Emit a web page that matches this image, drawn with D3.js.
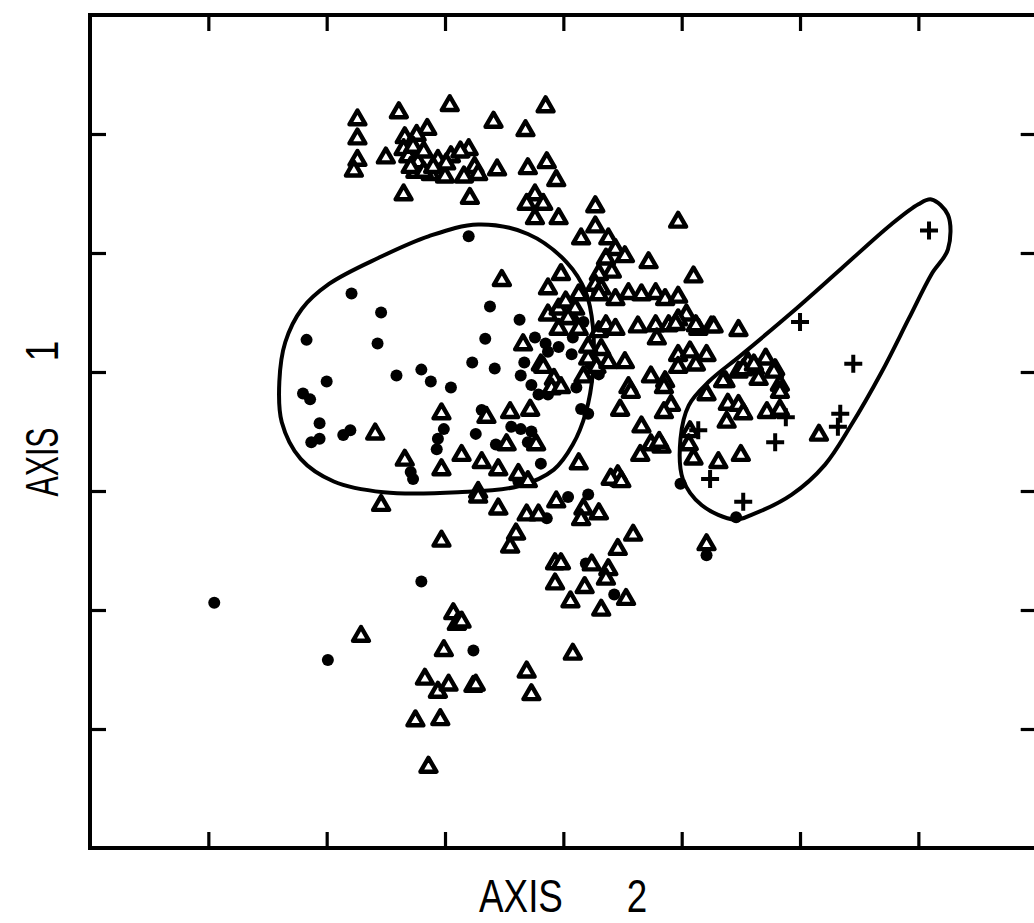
<!DOCTYPE html>
<html>
<head>
<meta charset="utf-8">
<script src="https://cdn.jsdelivr.net/npm/d3@7"></script>
<style>
  body { margin: 0; background: #fff; }
  svg { display: block; }
</style>
</head>
<body>
<div id="chart"></div>
<script>
// ordination scores, axis units (no tick labels on the original)
const triangles = [
  [-1.74,3.12],[-1.74,2.96],[-1.74,2.78],[-1.77,2.69],[-1.39,3.18],[-0.96,3.24],[-1.15,3.04],[-1.50,2.80],
  [-1.34,2.97],[-1.24,2.99],[-0.59,3.10],[-0.32,3.03],[-0.15,3.23],[-0.56,2.70],[-0.30,2.71],[-0.14,2.76],
  [-0.06,2.61],[-1.35,2.49],[-0.79,2.46],[-0.24,2.49],[-0.31,2.41],[-0.17,2.41],[-0.24,2.29],[-0.04,2.29],
  [-0.80,2.87],[-0.95,2.81],[-1.12,2.66],[-1.00,2.64],[-1.25,2.68],[-1.35,2.87],[-1.31,2.81],[-1.27,2.89],
  [-1.23,2.76],[-1.18,2.85],[-1.29,2.72],[-1.06,2.78],[-0.99,2.75],[-0.87,2.85],[-0.75,2.72],[-0.72,2.66],
  [-0.84,2.64],[-1.18,2.68],[-1.10,2.72],
  [0.27,2.39],[0.15,2.12],[0.27,2.22],[0.38,2.12],[0.44,2.03],[0.52,1.97],[0.36,1.95],[0.41,1.84],
  [0.30,1.82],[0.27,1.73],[0.32,1.70],[0.97,2.26],[0.72,1.92],[1.10,1.80],[-0.02,1.82],[-0.13,1.70],
  [-0.52,1.77],[0.30,1.65],[0.44,1.61],[0.55,1.66],[0.66,1.65],[0.78,1.66],[0.86,1.61],[0.97,1.63],
  [1.04,1.48],[1.48,1.35],[1.25,1.38],[1.14,1.36],[0.63,1.38],[0.78,1.39],[0.79,1.28],[0.89,1.39],
  [0.97,1.44],[-0.13,1.48],[-0.04,1.53],[0.02,1.59],[0.13,1.65],[0.07,1.45],[0.13,1.36],[-0.04,1.36],
  [-0.34,1.23],[-0.19,1.06],[-0.08,0.94],[0.30,1.34],[0.36,1.39],[0.44,1.36],[0.52,1.08],[0.32,1.19],
  [0.21,1.11],[0.97,1.14],[1.07,1.17],[1.21,1.14],[1.12,1.06],[0.97,1.04],[0.74,0.96],[0.86,0.92],
  [0.55,0.87],[1.56,1.08],[1.71,1.11],[1.62,1.03],[1.79,1.02],[1.83,0.89],[1.37,0.92],[1.48,1.00],
  [-0.17,1.04],[-0.10,0.86],[-0.02,0.87],[-1.03,0.65],[-0.65,0.62],[-0.45,0.66],[-0.28,0.68],[-1.59,0.48],
  [-1.34,0.26],[-1.03,0.18],[-0.86,0.30],[-0.69,0.24],[-0.48,0.39],[-0.23,0.39],[-0.55,0.18],[-0.38,0.14],
  [-0.30,0.08],[0.13,0.23],[-0.72,-0.01],[-1.54,-0.12],[0.10,1.53],[0.04,1.45],
  [0.95,1.40],[1.12,1.39],[1.27,1.38],[0.85,0.87],[0.91,0.72],[0.85,0.66],[0.83,0.37],[1.07,0.50],
  [1.06,0.39],[1.10,0.27],[1.31,0.24],[1.50,0.30],[1.35,0.92],[1.21,0.81],[1.39,0.73],[1.48,0.72],
  [1.52,0.65],[1.38,0.58],[1.52,1.02],[1.61,1.06],[1.78,1.00],[1.65,0.94],[1.83,0.83],[1.72,0.66],
  [1.83,0.68],[2.16,0.47],
  [-1.03,-0.42],[-1.71,-1.22],[-0.93,-1.03],[-0.90,-1.12],[-1.01,-1.34],[-1.17,-1.58],[-1.06,-1.69],[-0.97,-1.63],
  [-0.76,-1.64],[-1.25,-1.93],[-1.04,-1.92],[-1.14,-2.32],[-0.72,-0.05],[-0.55,-0.15],[-0.31,-0.20],[-0.21,-0.20],
  [-0.06,-0.09],[0.17,-0.15],[0.15,-0.24],[0.30,-0.19],[-0.40,-0.36],[-0.45,-0.47],[0.59,-0.37],[0.46,-0.49],
  [-0.07,-0.61],[-0.02,-0.61],[0.24,-0.62],[0.38,-0.66],[-0.07,-0.78],[0.18,-0.81],[0.36,-0.74],[0.06,-0.93],
  [0.53,-0.91],[0.32,-1.00],[-0.86,-1.10],[1.21,-0.45],[0.08,-1.37],[-0.31,-1.52],[-0.27,-1.71],[-0.74,-1.63],
  [0.65,0.30],[0.66,0.54],[0.48,0.68],[0.57,0.83],[0.74,0.39],[0.81,0.41],[0.46,0.13],[0.40,0.10],
  [0.49,0.08],[0.21,1.21],[0.17,0.96],[0.28,1.04],[0.38,1.08]
];

const dots = [
  [-2.95,-0.94],[-1.99,-1.42],[-1.20,-0.76],[-0.76,-1.34],[-0.80,2.14],[-1.79,1.66],[-1.54,1.50],[-2.17,1.27],
  [-1.57,1.24],[-0.62,1.55],[-0.37,1.44],[-0.66,1.28],[-0.77,1.08],[-0.58,1.03],[-1.20,1.02],[-1.41,0.97],
  [-1.12,0.92],[-0.95,0.87],[-2.00,0.92],[-2.20,0.82],[-2.14,0.77],[-2.06,0.57],[-2.13,0.41],[-2.06,0.44],
  [-1.86,0.47],[-1.80,0.51],[-1.01,0.52],[-1.06,0.44],[-1.07,0.35],[-0.74,0.48],[-0.69,0.68],[-1.27,0.10],
  [-1.29,0.16],[-0.24,1.29],[-0.15,1.24],[-0.13,1.17],[-0.33,1.08],[-0.36,0.97],[-0.27,0.89],[-0.21,0.81],
  [-0.13,0.81],[0.07,1.15],[-0.44,0.54],[-0.36,0.52],[-0.27,0.50],[-0.57,0.39],[-0.30,0.41],[-0.19,0.23],
  [0.15,0.69],[0.21,0.65],[0.23,1.06],[0.99,0.06],[1.46,-0.22],[-0.14,-0.23],[0.04,-0.05],[0.21,-0.03],
  [0.19,-0.61],[0.43,-0.87],[1.21,-0.54],[0.42,0.08],[-0.38,0.08],[0.08,1.29],[-0.04,1.21],[0.17,1.42],
  [0.30,0.98],[0.11,0.87]
];

const pluses = [
  [3.09,2.19],[2.00,1.42],[2.45,1.07],[2.34,0.65],[2.32,0.54],[1.88,0.62],[1.79,0.41],[1.14,0.51],
  [1.24,0.10],[1.52,-0.09]
];

// hand-drawn group envelopes
const envelopeLeft = [
  [-0.72,2.24],[-0.30,2.16],[0.03,1.92],[0.19,1.67],[0.25,1.38],[0.25,1.00],[0.19,0.66],[0.08,0.39],
  [-0.08,0.18],[-0.38,0.04],[-0.89,-0.01],[-1.52,-0.01],[-1.94,0.08],[-2.22,0.27],[-2.38,0.58],
  [-2.40,0.92],[-2.35,1.25],[-2.21,1.53],[-1.98,1.74],[-1.56,1.96],[-1.14,2.14]
];
const envelopeRight = [
  [3.11,2.45],[3.25,2.32],[3.25,2.03],[3.11,1.82],[2.92,1.45],[2.69,1.00],[2.43,0.55],[2.21,0.22],
  [1.93,-0.03],[1.59,-0.20],[1.45,-0.24],[1.17,-0.12],[1.01,0.10],[0.99,0.44],[1.06,0.72],[1.23,0.92],
  [1.50,1.14],[1.93,1.50],[2.35,1.87],[2.77,2.24],[3.00,2.41]
];

const xTicks = [-3, -2, -1, 0, 1, 2, 3];
const yTicks = [-2, -1, 0, 1, 2, 3];

const width = 1034, height = 923;
const frameL = 90, frameR = 1036.7, frameT = 15, frameB = 848;

const svg = d3.select('#chart').append('svg')
    .attr('width', width)
    .attr('height', height);

const x = d3.scaleLinear().domain([-4, 4]).range([frameL, frameR]);
const y = d3.scaleLinear().domain([-3, 4]).range([frameB, frameT]);

const ink = '#000';
const tickLen = 16;

// frame
svg.append('rect')
    .attr('x', frameL).attr('y', frameT)
    .attr('width', frameR - frameL).attr('height', frameB - frameT)
    .attr('fill', 'none').attr('stroke', ink).attr('stroke-width', 4);

// inward ticks on all four sides, no labels
const axes = [
    [d3.axisBottom(x).tickValues(xTicks), `translate(0,${frameT})`],
    [d3.axisTop(x).tickValues(xTicks), `translate(0,${frameB})`],
    [d3.axisRight(y).tickValues(yTicks), `translate(${frameL},0)`],
    [d3.axisLeft(y).tickValues(yTicks), `translate(${frameR},0)`]
];
axes.forEach(([ax, tr]) => {
    const g = svg.append('g').attr('transform', tr)
        .call(ax.tickSize(tickLen).tickFormat(''));
    g.select('.domain').remove();
    g.selectAll('line').attr('stroke', ink).attr('stroke-width', 3.2);
});

// envelopes
const outline = d3.line()
    .curve(d3.curveCatmullRomClosed.alpha(0.5))
    .x(d => x(d[0]))
    .y(d => y(d[1]));

svg.append('g')
    .selectAll('path')
    .data([envelopeLeft, envelopeRight])
    .join('path')
    .attr('d', outline)
    .attr('fill', 'none')
    .attr('stroke', ink)
    .attr('stroke-width', 4);

// filled dots
svg.append('g')
    .selectAll('circle')
    .data(dots)
    .join('circle')
    .attr('cx', d => x(d[0]))
    .attr('cy', d => y(d[1]))
    .attr('r', 6)
    .attr('fill', ink);

// open triangles
const tri = d3.symbol().type(d3.symbolTriangle).size(110);
svg.append('g')
    .selectAll('path')
    .data(triangles)
    .join('path')
    .attr('d', tri)
    .attr('transform', d => `translate(${x(d[0])},${y(d[1])})`)
    .attr('fill', '#fff')
    .attr('stroke', ink)
    .attr('stroke-width', 4.4)
    .attr('stroke-linejoin', 'round');

// plus signs
svg.append('g')
    .selectAll('path')
    .data(pluses)
    .join('path')
    .attr('d', d => `M${x(d[0]) - 9},${y(d[1])}h18M${x(d[0])},${y(d[1]) - 9}v18`)
    .attr('stroke', ink)
    .attr('stroke-width', 4)
    .attr('fill', 'none');

// axis titles
const font = '"Liberation Sans", Arial, sans-serif';
svg.append('text')
    .attr('transform', `translate(521,912) scale(0.8,1)`)
    .attr('text-anchor', 'middle')
    .attr('font-family', font).attr('font-size', 46)
    .attr('fill', ink)
    .text('AXIS');
svg.append('text')
    .attr('transform', `translate(637,912) scale(0.8,1)`)
    .attr('text-anchor', 'middle')
    .attr('font-family', font).attr('font-size', 46)
    .attr('fill', ink)
    .text('2');

svg.append('text')
    .attr('transform', `translate(58,462) rotate(-90) scale(0.66,1)`)
    .attr('text-anchor', 'middle')
    .attr('font-family', font).attr('font-size', 46)
    .attr('fill', ink)
    .text('AXIS');
svg.append('text')
    .attr('transform', `translate(58,351) rotate(-90) scale(0.8,1)`)
    .attr('text-anchor', 'middle')
    .attr('font-family', font).attr('font-size', 46)
    .attr('fill', ink)
    .text('1');
</script>
</body>
</html>
